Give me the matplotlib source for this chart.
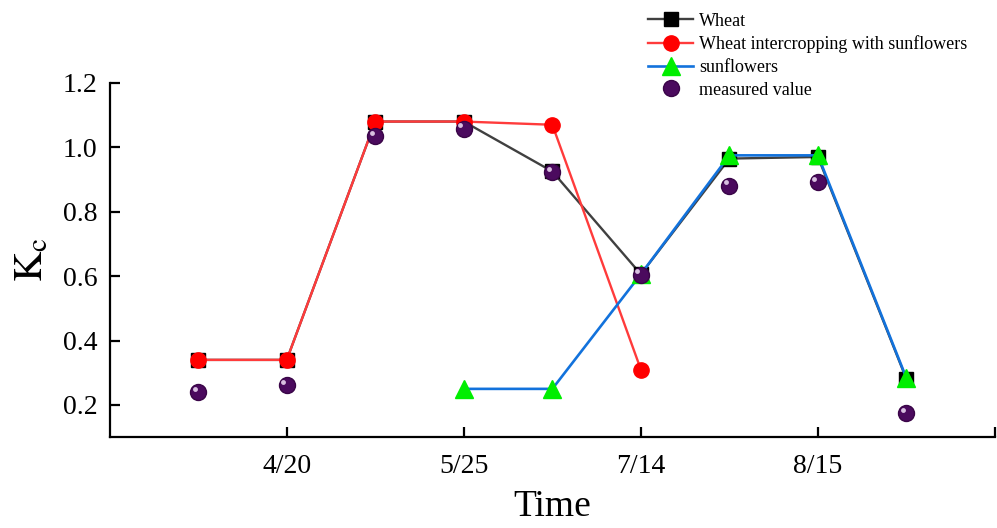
import numpy as np
import matplotlib.pyplot as plt
import matplotlib.transforms as mtransforms

plt.rcParams['font.family'] = ['Liberation Serif', 'DejaVu Serif']
plt.rcParams['mathtext.fontset'] = 'stix'

# data (x = sampling index)
x_all = [1, 2, 3, 4, 5, 6, 7, 8, 9]
wheat = [0.34, 0.34, 1.08, 1.08, 0.925, 0.606, 0.965, 0.97, 0.28]
x_inter = [1, 2, 3, 4, 5, 6]
intercrop = [0.34, 0.34, 1.08, 1.08, 1.07, 0.31]
x_sun = [4, 5, 6, 7, 8, 9]
sunflower = [0.25, 0.25, 0.606, 0.975, 0.975, 0.283]
measured = [0.239, 0.261, 1.034, 1.057, 0.923, 0.605, 0.880, 0.892, 0.174]

tick_pos = [2, 4, 6, 8, 10]
tick_labels = ['4/20', '5/25', '7/14', '8/15', '']

fig = plt.figure(figsize=(9.97, 5.28), dpi=100)
ax = fig.add_axes([0.110, 0.172, 0.888, 0.671])

ax.plot(x_all, wheat, color='#404040', lw=1.7, marker='s', ms=10,
        mfc='black', mec='black', label='Wheat', zorder=3)
ax.plot(x_inter, intercrop, color='#FF3b3b', lw=1.7, marker='o', ms=11,
        mfc='#FF0000', mec='#FF0000', label='Wheat intercropping with sunflowers', zorder=4)
ax.plot(x_sun, sunflower, color='#1272DC', lw=1.9, marker='^', ms=13,
        mfc='#00EE00', mec='#00EE00', label='sunflowers', zorder=5)
ax.plot(x_all, measured, ls='none', marker='o', ms=11.5, mfc='#4B0A5E',
        mec='#3A0548', label='measured value', zorder=6)
# little highlight to give the spheres some shine
hl = mtransforms.offset_copy(ax.transData, fig=fig, x=-2.5, y=2.5, units='points')
ax.plot(x_all, measured, ls='none', marker='o', ms=3.5, mfc='#D8C0E0',
        mec='none', transform=hl, zorder=7)

ax.set_xlim(0, 10)
ax.set_ylim(0.1, 1.2)
ax.set_xticks(tick_pos)
ax.set_xticklabels(tick_labels)
ax.set_yticks([0.2, 0.4, 0.6, 0.8, 1.0, 1.2])
ax.yaxis.set_major_formatter(plt.FormatStrFormatter('%.1f'))
ax.tick_params(direction='in', length=7, width=1.6, labelsize=20, pad=9)
ax.tick_params(axis='x', pad=12)
for s in ['top', 'right']:
    ax.spines[s].set_visible(False)
for s in ['left', 'bottom']:
    ax.spines[s].set_linewidth(1.6)

ax.set_xlabel('Time', fontsize=27, labelpad=8)
ax.set_ylabel(r'$\mathrm{K_c}$', fontsize=30, labelpad=8)

fig.legend(loc='upper left', bbox_to_anchor=(0.643, 0.99), frameon=False,
           fontsize=13, handlelength=2.5, handletextpad=0.3, labelspacing=0.32,
           borderaxespad=0)

fig.savefig('out.png', dpi=100)
